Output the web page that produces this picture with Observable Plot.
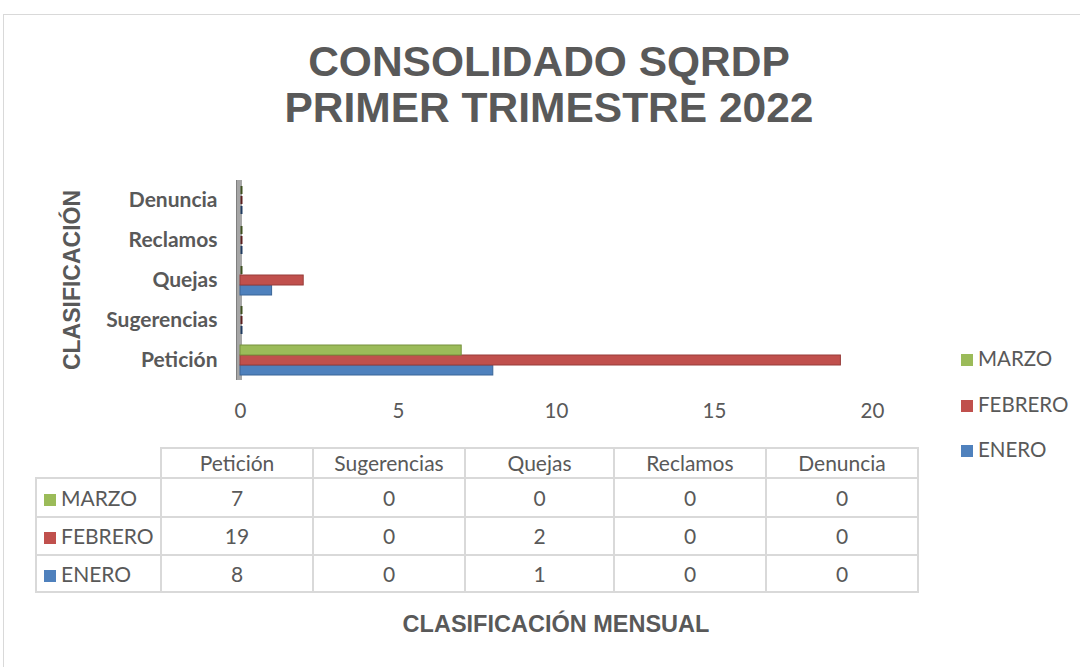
<!DOCTYPE html>
<html><head><meta charset="utf-8">
<script src="https://cdn.jsdelivr.net/npm/d3@7"></script>
<script src="https://cdn.jsdelivr.net/npm/@observablehq/plot@0.6"></script>
<style>
body{margin:0;background:#fff;}
#root{position:relative;width:1080px;height:667px;overflow:hidden;font-family:Lato,"Open Sans",sans-serif;color:#595959;background:#fff;}
#frame{position:absolute;left:3px;top:14px;width:1200px;height:800px;border:1px solid #d9d9d9;}
#title{position:absolute;left:0;width:1098px;top:39px;text-align:center;font:bold 42.5px "Liberation Sans",Arial,sans-serif;line-height:46px;color:#595959;}
#ylab{position:absolute;left:72px;top:280px;transform:translate(-50%,-50%) rotate(-90deg);white-space:nowrap;font:bold 23px "Liberation Sans",Arial,sans-serif;color:#595959;}
#xlab{position:absolute;left:556px;top:624px;transform:translate(-50%,-50%);white-space:nowrap;font:bold 23.5px "Liberation Sans",Arial,sans-serif;color:#595959;}
#chart{position:absolute;left:0;top:170px;}
#legend{position:absolute;left:961px;top:0;}
.li{position:absolute;left:0;white-space:nowrap;font-size:20.5px;line-height:22px;transform:translateY(-50%);}
.sw{display:inline-block;width:12px;height:12px;margin-right:5px;vertical-align:0px;}
#tbl{position:absolute;left:35px;top:447px;border-collapse:collapse;table-layout:fixed;font-size:21px;color:#595959;}
#tbl td{border:2px solid #d9d9d9;text-align:center;padding:0;white-space:nowrap;line-height:22px;}
#tbl td.blank{border-top:none;border-left:none;}
#tbl td.rl{text-align:left;padding-left:7px;}
</style></head>
<body><div id="root">
<div id="frame"></div>
<div id="title">CONSOLIDADO SQRDP<br>PRIMER TRIMESTRE 2022</div>
<div id="ylab">CLASIFICACIÓN</div>
<div id="chart"></div>
<div id="legend"></div>
<table id="tbl"></table>
<div id="xlab">CLASIFICACIÓN MENSUAL</div>
</div>
<script>
const categories = ["Petición","Sugerencias","Quejas","Reclamos","Denuncia"];
const months = ["ENERO","FEBRERO","MARZO"];
const enero = [8,0,1,0,0];
const febrero = [19,0,2,0,0];
const marzo = [7,0,0,0,0];
const monthColors = ["#4f81bd","#c0504d","#9bbb59"];
const monthStrokes = ["#3a6597","#973c3a","#76923c"];
const monthDark = ["#1f3a5f","#5a1f1e","#3d4f1f"];
const xTicks = [0,5,10,15,20];

const series = [enero, febrero, marzo];
const data = [];
months.forEach((m,i)=>categories.forEach((c,j)=>data.push({cat:c, month:m, value:series[i][j]})));

const chart = Plot.plot({
  width:1080, height:260,
  marginLeft:240, marginRight:208, marginTop:10, marginBottom:50,
  style:{fontFamily:"Lato, 'Open Sans', sans-serif", color:"#595959", background:"transparent"},
  x:{domain:[0,20]},
  y:{domain:["MARZO","FEBRERO","ENERO"], paddingInner:0, paddingOuter:0.5, axis:null},
  fy:{domain:[...categories].reverse(), padding:0},
  color:{domain:months, range:monthColors},
  marks:[
    Plot.ruleX([0], {stroke:"#a6a6a6", strokeWidth:5, dx:-1}),
    Plot.ruleX([0], {stroke:"#7f7f7f", strokeWidth:1, dx:-4}),
    Plot.barX(data, {x:"value", y:"month", fy:"cat", fill:"month",
      stroke:d=>monthStrokes[months.indexOf(d.month)], strokeWidth:1}),
    Plot.tickX(data.filter(d=>d.value===0), {x:"value", y:"month", fy:"cat",
      stroke:d=>monthDark[months.indexOf(d.month)], strokeWidth:2, dx:1, insetTop:1, insetBottom:1}),
    Plot.axisX({ticks:xTicks, tickSize:0, tickPadding:23, label:null, fontSize:20.5, fill:"#595959"}),
    Plot.axisFy({anchor:"left", tickSize:0, tickPadding:23, label:null, fontSize:21, fontWeight:"bold", fill:"#595959"})
  ]
});
document.getElementById("chart").appendChild(chart);

// legend
const legend = document.getElementById("legend");
const legendY = {MARZO:358, FEBRERO:404, ENERO:449};
["MARZO","FEBRERO","ENERO"].forEach(m=>{
  const d=document.createElement("div"); d.className="li"; d.style.top=legendY[m]+"px";
  d.innerHTML=`<span class="sw" style="background:${monthColors[months.indexOf(m)]}"></span>${m}`;
  legend.appendChild(d);
});

// data table
const tbl = document.getElementById("tbl");
const colW = [123,150,150,147,150,150];
const rowH = [30,39,38,37];
let html = "<colgroup>" + colW.map(w=>`<col style="width:${w+2}px">`).join("") + "</colgroup>";
html += `<tr style="height:${rowH[0]}px"><td class="blank"></td>` +
  categories.map(c=>`<td>${c}</td>`).join("") + "</tr>";
["MARZO","FEBRERO","ENERO"].forEach((m,r)=>{
  const i = months.indexOf(m);
  html += `<tr style="height:${rowH[r+1]}px"><td class="rl"><span class="sw" style="background:${monthColors[i]}"></span>${m}</td>` +
    series[i].map(v=>`<td>${v}</td>`).join("") + "</tr>";
});
tbl.innerHTML = html;
</script>
</body></html>
